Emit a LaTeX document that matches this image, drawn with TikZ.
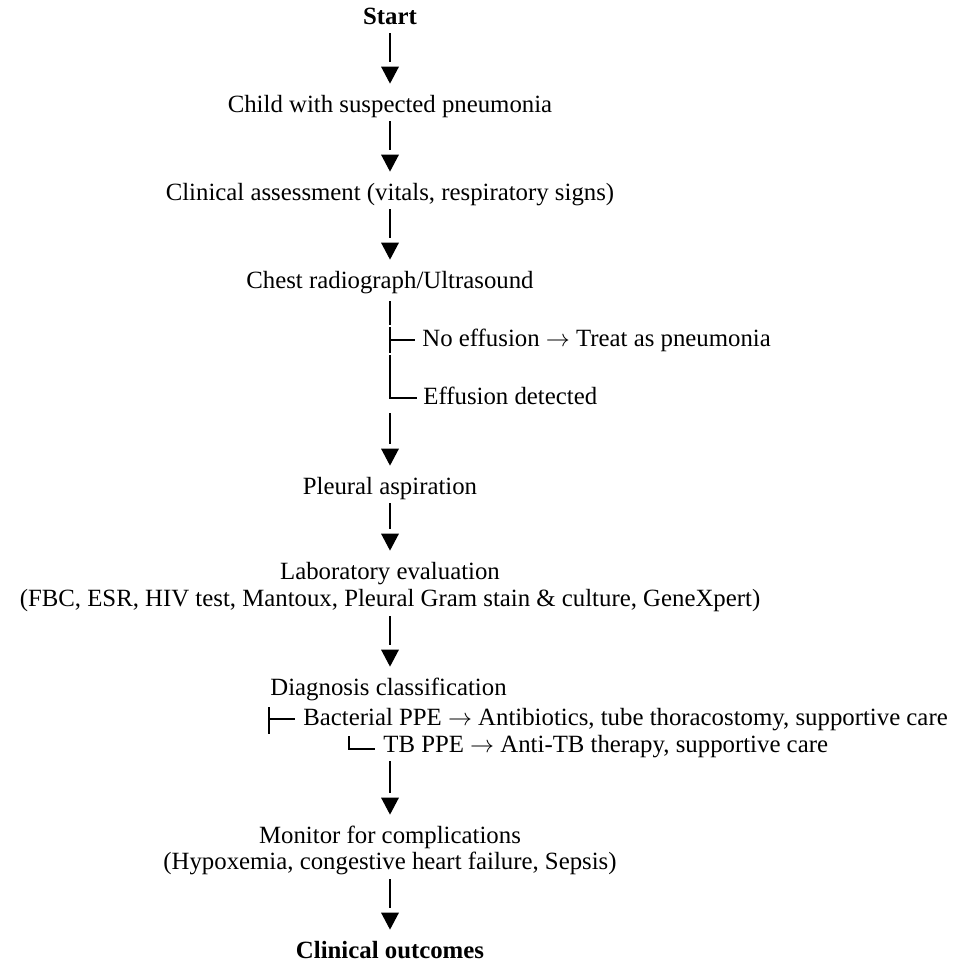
\documentclass[tikz,border=0pt]{standalone}
\usepackage{fontspec}
\setmainfont{Liberation Serif}
\usetikzlibrary{positioning,calc,decorations.markings}

\newcommand{\flowfont}{\fontsize{12.4}{15}\selectfont}

\begin{document}
\begin{tikzpicture}[
    x=0.5pt, y=-0.5pt,
    txt/.style={inner sep=0pt, text height=9pt, text depth=3pt, font=\flowfont},
    flow/.style={line width=1pt, shorten <=1.5pt, shorten >=16pt,
      postaction={decorate, decoration={markings,
        mark=at position -5pt with {\fill (-8.5pt,4.5pt) -- (0pt,0pt) -- (-8.5pt,-4.5pt) -- cycle;}}}},
    branch/.style={line width=0.75pt}
  ]
\useasboundingbox (0,0) rectangle (971,966);

% Main steps
\node[txt, font=\flowfont\bfseries] (start) at (390,18) {Start};
\node[txt] (child) at (390,106) {Child with suspected pneumonia};
\node[txt] (clin) at (390,194) {Clinical assessment (vitals, respiratory signs)};
\node[txt] (chest) at (390,282) {Chest radiograph/Ultrasound};

% Imaging result
\node[txt, anchor=west] (noeff) at (422,340) {No effusion $\rightarrow$ Treat as pneumonia};
\node[txt, anchor=west] (effu) at (423,398) {Effusion detected};

\node[txt] (pleural) at (390,488) {Pleural aspiration};
\node[txt] (lab) at (390,573) {Laboratory evaluation};
\node[txt, below=1.5pt of lab] (fbc) {(FBC, ESR, HIV test, Mantoux, Pleural Gram stain \& culture, GeneXpert)};

% Diagnosis
\node[txt, anchor=west] (diag) at (270,689) {Diagnosis classification};
\node[txt, anchor=west] (bact) at (303,719) {Bacterial PPE $\rightarrow$ Antibiotics, tube thoracostomy, supportive care};
\node[txt, anchor=west] (tb) at (383,746) {TB PPE $\rightarrow$ Anti-TB therapy, supportive care};

\node[txt] (monitor) at (390,837) {Monitor for complications};
\node[txt, below=1pt of monitor] (hypox) {(Hypoxemia, congestive heart failure, Sepsis)};
\node[txt, font=\flowfont\bfseries] (outcome) at (390,952) {Clinical outcomes};

% Arrows
\draw[flow] (start) -- (child);
\draw[flow] (child) -- (clin);
\draw[flow] (clin) -- (chest);
\draw[flow] (effu.south -| pleural) -- (pleural);
\draw[flow] (pleural) -- (lab);
\draw[flow] (fbc.south -| lab) -- (diag.north -| lab);
\draw[flow] (tb.south -| lab) -- (monitor);
\draw[flow] (hypox) -- (outcome);

% Branch lines
\draw[branch] ($(chest.south)+(0,7)$) -- ++(0,24);
\draw[branch] ($(chest.south |- noeff.west)+(0,-13)$) -- ++(0,26);
\draw[branch] (chest.south |- noeff.west) -- ($(noeff.west)+(-7,0)$);
\draw[branch] ($(chest.south |- noeff.west)+(0,15)$) |- ($(effu.west)+(-6,0)$);
\draw[branch] ($(bact.west)+(-34,-12)$) coordinate (tick) -- (tick |- tb.north);
\draw[branch] (tick |- bact.west) -- ($(bact.west)+(-8,0)$);
\draw[branch] ($(tb.west)+(-34,-10)$) |- ($(tb.west)+(-8,3)$);

\end{tikzpicture}
\end{document}
